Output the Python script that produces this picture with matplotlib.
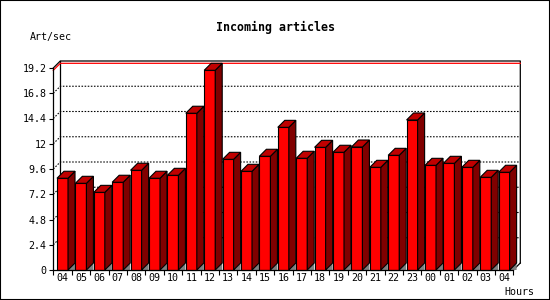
import matplotlib
matplotlib.use("Agg")
import matplotlib.pyplot as plt
from matplotlib.patches import Polygon, Rectangle

# Data
hours = ["04", "05", "06", "07", "08", "09", "10", "11", "12", "13", "14", "15",
         "16", "17", "18", "19", "20", "21", "22", "23", "00", "01", "02", "03", "04"]
art_per_sec = [8.72, 8.24, 7.38, 8.34, 9.48, 8.72, 9.0, 14.9, 18.98, 10.52, 9.38, 10.81,
               13.56, 10.62, 11.66, 11.19, 11.69, 9.76, 10.9, 14.26, 9.95, 10.14, 9.76, 8.81, 9.29]
y_ticks = [0, 2.4, 4.8, 7.2, 9.6, 12, 14.4, 16.8, 19.2]

# Colours of the 3D bars
front_col = "#ff0000"
side_col = "#800000"
top_col = "#c00000"
floor_col = "#808080"

fig = plt.figure(figsize=(5.5, 3.0), dpi=100)
ax = fig.add_axes([53.3 / 550, 30 / 300, 460 / 550, 202 / 300])
n = len(hours)
ymax = y_ticks[-1]
ax.set_xlim(0, n)
ax.set_ylim(0, ymax)

# depth of the 3D effect, 7 px converted to data units
px_x = 460 / n
px_y = 202 / ymax
dx = 7 / px_x
dy = 7 / px_y

# back wall frame
frame_kw = dict(color="black", lw=0.9, clip_on=False, zorder=1)
ax.plot([0, dx, n + dx, n + dx], [ymax, ymax + dy, ymax + dy, dy], **frame_kw)
ax.plot([dx, dx], [dy, ymax + dy], **frame_kw)
ax.plot([n, n + dx], [0, dy], **frame_kw)

# dotted grid on back wall and left wall
for v in y_ticks[1:-1]:
    ax.plot([0, dx, n + dx], [v, v + dy, v + dy], color="black", lw=0.8,
            ls=(0, (1.4, 1.4)), clip_on=False, zorder=1)

# red line at maximum value
vmax = max(art_per_sec)
ax.plot([0, dx, n + dx], [vmax, vmax + dy, vmax + dy], color="#ff0000", lw=0.9,
        clip_on=False, zorder=1.5)

# bars
width = 0.6
for i, v in enumerate(art_per_sec):
    left = i + 0.5 - width / 2
    right = left + width
    ax.add_patch(Polygon([(right, 0), (right + dx, dy), (right + dx, 0)],
                         closed=True, fc=floor_col, ec="none", zorder=2, clip_on=False))
    ax.add_patch(Rectangle((left, 0), width, v, fc=front_col, ec="black", lw=0.8,
                           zorder=3, clip_on=False))
    ax.add_patch(Polygon([(right, 0), (right + dx, dy), (right + dx, v + dy), (right, v)],
                         closed=True, fc=side_col, ec="black", lw=0.8, zorder=3, clip_on=False))
    ax.add_patch(Polygon([(left, v), (left + dx, v + dy), (right + dx, v + dy), (right, v)],
                         closed=True, fc=top_col, ec="black", lw=0.8, zorder=3, clip_on=False))

# axes and ticks
for s in ["top", "right"]:
    ax.spines[s].set_visible(False)
for s in ["left", "bottom"]:
    ax.spines[s].set_linewidth(0.9)
    ax.spines[s].set_zorder(4)
ax.patch.set_alpha(0)

ax.set_yticks(y_ticks)
ax.set_yticklabels(["%g" % t for t in y_ticks])
ax.set_xticks(range(n + 1))
ax.set_xticklabels([])
ax.set_xticks([i + 0.5 for i in range(n)], minor=True)
ax.set_xticklabels(hours, minor=True)
ax.tick_params(axis="y", length=3, width=0.8, pad=2, labelsize=7.2)
ax.tick_params(axis="x", which="major", length=3.5, width=0.8)
ax.tick_params(axis="x", which="minor", length=0, pad=2, labelsize=7.2)
for lab in ax.get_xticklabels(minor=True) + ax.get_yticklabels():
    lab.set_family("DejaVu Sans Mono")

# titles
fig.text(0.5, 1 - 27 / 300, "Incoming articles", ha="center", va="center",
         family="DejaVu Sans Mono", fontweight="bold", fontsize=8.4)
fig.text(30 / 550, 1 - 37 / 300, "Art/sec", ha="left", va="center",
         family="DejaVu Sans Mono", fontsize=7.2)
fig.text(534 / 550, 1 - 292 / 300, "Hours", ha="right", va="center",
         family="DejaVu Sans Mono", fontsize=7.2)

# outer border
fig.patches.append(Rectangle((0, 0), 1, 1, transform=fig.transFigure, fill=False,
                             ec="black", lw=1.5))

fig.savefig("out.png", dpi=100)
